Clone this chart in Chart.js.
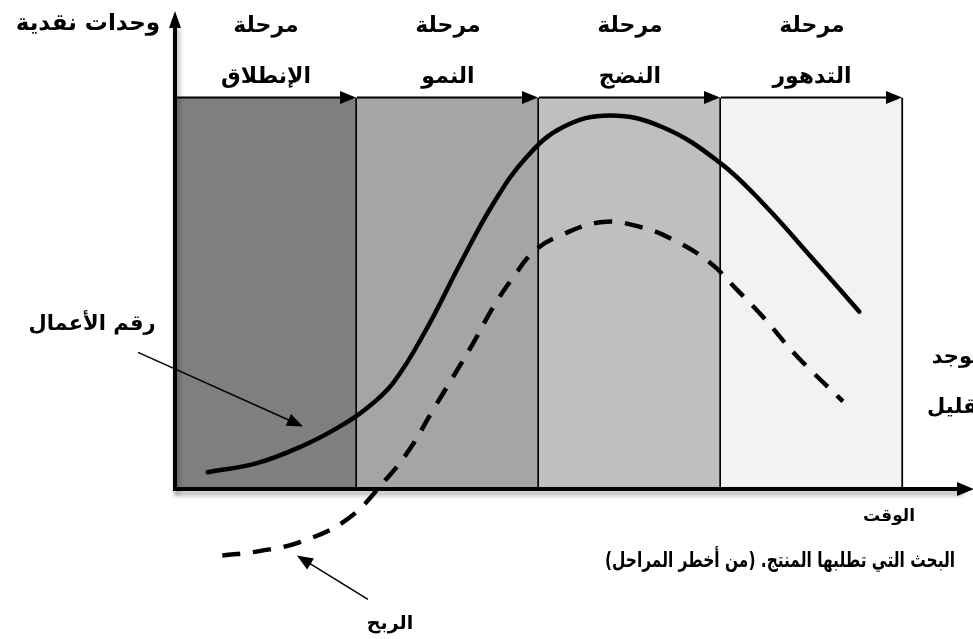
<!DOCTYPE html>
<html lang="ar">
<head>
    <meta charset="UTF-8">
    <title>دورة حياة المنتج</title>
    <script src="https://cdn.jsdelivr.net/npm/chart.js"></script>
    <style>
        body {
            margin: 0;
            padding: 0;
            background: #fff;
            overflow: hidden;
        }
        canvas {
            display: block;
        }
    </style>
</head>
<body>
    <canvas id="plcChart" width="973" height="639"></canvas>
    <script>
        // stages (time axis, one unit per stage)
        const stageStarts = [0, 1, 2, 3];
        const stageHeights = [10, 10, 10, 10];
        const stageTitle = 'مرحلة';
        const stageNames = ['الإنطلاق', 'النمو', 'النضج', 'التدهور'];

        // turnover curve (solid)
        const turnoverTime = [0.18, 0.45, 0.70, 0.90, 1.05, 1.20, 1.38, 1.57, 1.75, 1.93, 2.13, 2.39, 2.68, 2.99, 3.23, 3.51, 3.76];
        const turnoverValues = [0.43, 0.66, 1.10, 1.58, 2.05, 2.72, 4.07, 5.78, 7.30, 8.47, 9.24, 9.54, 9.24, 8.35, 7.30, 5.85, 4.53];

        // profit curve (dashed)
        const profitTime = [0.26, 0.47, 0.69, 0.95, 1.16, 1.29, 1.42, 1.53, 1.64, 1.75, 1.86, 1.97, 2.10, 2.35, 2.56, 2.74, 2.94, 3.09, 3.23, 3.42, 3.67];
        const profitValues = [-1.70, -1.58, -1.35, -0.76, 0.25, 1.02, 2.04, 2.88, 3.74, 4.66, 5.42, 6.06, 6.44, 6.82, 6.69, 6.36, 5.78, 5.08, 4.40, 3.38, 2.24];

        const bandColors = ['#7f7f7f', '#a5a5a5', '#bfbfbf', '#f2f2f2'];
        const arabicFont = '"DejaVu Sans", "Noto Sans", sans-serif';

        function arrowHead(ctx, x, y, angle, len, half) {
            ctx.save();
            ctx.translate(x, y);
            ctx.rotate(angle);
            ctx.beginPath();
            ctx.moveTo(0, 0);
            ctx.lineTo(-len, -half);
            ctx.lineTo(-len, half);
            ctx.closePath();
            ctx.fill();
            ctx.restore();
        }

        function label(ctx, text, x, y, size, align, maxWidth) {
            ctx.font = 'bold ' + size + 'px ' + arabicFont;
            ctx.direction = 'rtl';
            ctx.textAlign = align || 'center';
            ctx.textBaseline = 'middle';
            ctx.fillStyle = '#000';
            if (maxWidth) {
                ctx.fillText(text, x, y, maxWidth);
            } else {
                ctx.fillText(text, x, y);
            }
        }

        const decorations = {
            id: 'decorations',
            afterDatasetsDraw(chart) {
                const ctx = chart.ctx;
                const xs = chart.scales.x;
                const ys = chart.scales.y;
                const px = v => xs.getPixelForValue(v);
                const py = v => ys.getPixelForValue(v);

                ctx.save();
                ctx.strokeStyle = '#000';
                ctx.fillStyle = '#000';

                // arrows along the top of each stage
                ctx.lineWidth = 2;
                stageStarts.forEach((s, i) => {
                    const y = py(stageHeights[i]);
                    ctx.beginPath();
                    ctx.moveTo(px(s), y);
                    ctx.lineTo(px(s + 1) - 12, y);
                    ctx.stroke();
                    arrowHead(ctx, px(s + 1) - 1, y, 0, 16, 6.5);
                });

                // axes with a soft shadow
                ctx.save();
                ctx.shadowColor = 'rgba(0,0,0,0.35)';
                ctx.shadowBlur = 5;
                ctx.shadowOffsetX = 2;
                ctx.shadowOffsetY = 4;
                ctx.lineWidth = 4;
                ctx.beginPath();
                ctx.moveTo(px(0), py(0) + 2);
                ctx.lineTo(px(0), 24);
                ctx.stroke();
                ctx.beginPath();
                ctx.moveTo(px(0) - 2, py(0));
                ctx.lineTo(chart.width - 12, py(0));
                ctx.stroke();
                ctx.restore();
                arrowHead(ctx, px(0), 11, -Math.PI / 2, 17, 6);
                arrowHead(ctx, chart.width + 1, py(0), 0, 17, 7);

                // stage titles
                stageStarts.forEach((s, i) => {
                    label(ctx, stageTitle, px(s + 0.5), 26, 22);
                    label(ctx, stageNames[i], px(s + 0.5), 77, 22);
                });

                label(ctx, 'وحدات نقدية', 160, 24, 23, 'right');
                label(ctx, 'رقم الأعمال', 92, 325, 21);
                label(ctx, 'الربح', 390, 624, 19);
                label(ctx, 'الوقت', 889, 517, 17);
                label(ctx, 'البحث التي تطلبها المنتج. (من أخطر المراحل)', 780, 562, 21, 'center', 350);
                label(ctx, 'يوجد', 980, 358, 21, 'right');
                label(ctx, 'تقليل', 986, 408, 21, 'right');

                // pointer arrows
                ctx.lineWidth = 1.5;
                const pointers = [
                    [-0.203, 3.49, 0.703, 1.60],
                    [1.06, -2.82, 0.67, -1.70]
                ];
                pointers.forEach(p => {
                    const x1 = px(p[0]), y1 = py(p[1]), x2 = px(p[2]), y2 = py(p[3]);
                    const a = Math.atan2(y2 - y1, x2 - x1);
                    ctx.beginPath();
                    ctx.moveTo(x1, y1);
                    ctx.lineTo(x2 - 12 * Math.cos(a), y2 - 12 * Math.sin(a));
                    ctx.stroke();
                    arrowHead(ctx, x2, y2, a, 16, 6.5);
                });

                ctx.restore();
            }
        };

        const ctx = document.getElementById('plcChart').getContext('2d');
        new Chart(ctx, {
            type: 'bar',
            data: {
                datasets: [
                    {
                        type: 'line',
                        data: turnoverTime.map((t, i) => ({ x: t, y: turnoverValues[i] })),
                        borderColor: '#000',
                        borderWidth: 4.5,
                        borderCapStyle: 'round',
                        pointRadius: 0,
                        tension: 0.4,
                        order: 1
                    },
                    {
                        type: 'line',
                        data: profitTime.map((t, i) => ({ x: t, y: profitValues[i] })),
                        borderColor: '#000',
                        borderWidth: 4.5,
                        borderDash: [18, 13],
                        pointRadius: 0,
                        tension: 0.4,
                        order: 1
                    },
                    {
                        type: 'bar',
                        data: stageStarts.map((s, i) => ({ x: s + 0.5, y: stageHeights[i] })),
                        backgroundColor: bandColors,
                        borderColor: '#000',
                        borderWidth: { top: 0, left: 0, bottom: 0, right: 2 },
                        barPercentage: 1,
                        categoryPercentage: 1,
                        order: 2
                    }
                ]
            },
            options: {
                responsive: false,
                animation: false,
                layout: { padding: 0 },
                plugins: {
                    legend: { display: false },
                    tooltip: { enabled: false }
                },
                scales: {
                    x: {
                        type: 'linear',
                        display: false,
                        offset: false,
                        min: -0.9615,
                        max: 4.3846,
                        ticks: { stepSize: 1, includeBounds: false }
                    },
                    y: { display: false, min: -3.83, max: 12.49 }
                }
            },
            plugins: [decorations]
        });
    </script>
</body>
</html>
